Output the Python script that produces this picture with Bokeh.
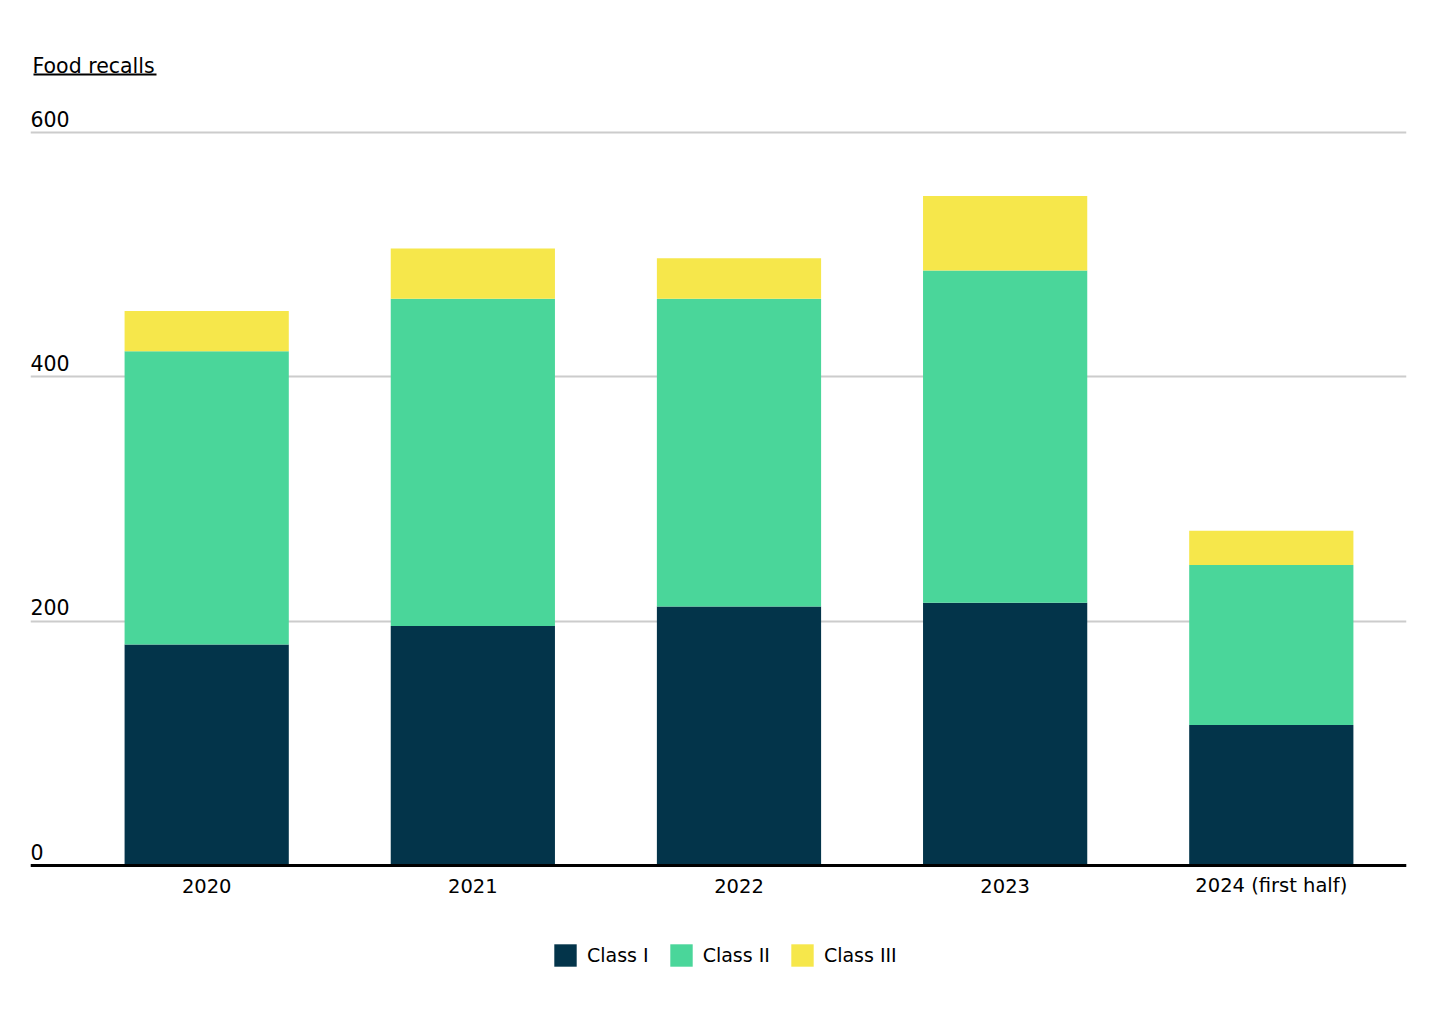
from bokeh.plotting import figure
from bokeh.models import Range1d, ColumnDataSource, Label, BoxAnnotation, Legend, LegendItem, FixedTicker, Span
from bokeh.core.properties import value
from bokeh.embed import file_html
from bokeh.resources import INLINE

years = ["2020", "2021", "2022", "2023", "2024 (first half)"]
class_i = [181, 196, 212, 215, 115]
class_ii = [240, 268, 252, 272, 131]
class_iii = [33, 41, 33, 61, 28]
y_ticks = [0, 200, 400, 600]
series_names = ["Class I", "Class II", "Class III"]
colors = ["#03344a", "#4ad69a", "#f6e74b"]

FONT = "DejaVu Sans"

xs = list(range(len(years)))
src = ColumnDataSource(dict(x=xs, c1=class_i, c2=class_ii, c3=class_iii))

p = figure(frame_width=1376, frame_height=970, output_backend="svg", toolbar_location=None,
           title=None, y_axis_location=None, x_axis_location=None,
           x_range=Range1d(-0.662, 4.508), y_range=Range1d(-102.3, 691.7),
           min_border_left=30, min_border_right=28, min_border_top=20,
           min_border_bottom=10)
p.outline_line_color = None
p.background_fill_color = "white"
p.border_fill_color = "white"

renderers = p.vbar_stack(["c1", "c2", "c3"], x="x", width=0.617, source=src,
                         color=colors, line_color=None)

# grid
p.xgrid.grid_line_color = None
p.ygrid.ticker = FixedTicker(ticks=y_ticks)
p.ygrid.grid_line_color = "#cccccc"
p.ygrid.grid_line_width = 2

# baseline (x axis line)
p.add_layout(Span(location=0, dimension="width", line_color="black", line_width=3))

# x category labels
xl_src = ColumnDataSource(dict(x=xs, y=[0] * len(xs), t=years))
p.text(x="x", y="y", text="t", source=xl_src, text_font=value(FONT),
       text_font_size="19.5px", text_color="black", text_baseline="alphabetic",
       text_align="center", y_offset=20)

# y tick labels drawn above grid lines
tick_src = ColumnDataSource(dict(x=[-0.662] * len(y_ticks), y=y_ticks,
                                 t=[str(v) for v in y_ticks]))
p.text(x="x", y="y", text="t", source=tick_src, text_font=value(FONT),
       text_font_size="20.5px", text_color="black", text_baseline="alphabetic",
       text_align="left", x_offset=0, y_offset=-14)

# title with underline
title = Label(x=2, y=925, x_units="screen", y_units="screen", text="Food recalls",
              text_font=FONT, text_font_size="20.5px", text_color="black",
              text_baseline="alphabetic", text_align="left")
p.add_layout(title)
underline = BoxAnnotation(left=3, right=126, bottom=915, top=917,
                          left_units="screen", right_units="screen",
                          bottom_units="screen", top_units="screen",
                          fill_color="black", fill_alpha=1, line_color=None)
p.add_layout(underline)

legend = Legend(items=[LegendItem(label=n, renderers=[r]) for n, r in zip(series_names, renderers)],
                orientation="horizontal", location=(521, 21))
legend.border_line_color = None
legend.background_fill_alpha = 0
legend.label_text_font = FONT
legend.label_text_font_size = "19px"
legend.label_text_color = "black"
legend.glyph_width = 28
legend.glyph_height = 28
legend.label_height = 22
legend.label_standoff = 8
legend.spacing = 18
legend.margin = 0
legend.padding = 5
p.add_layout(legend)

open("out.html", "w").write(file_html(p, INLINE))
